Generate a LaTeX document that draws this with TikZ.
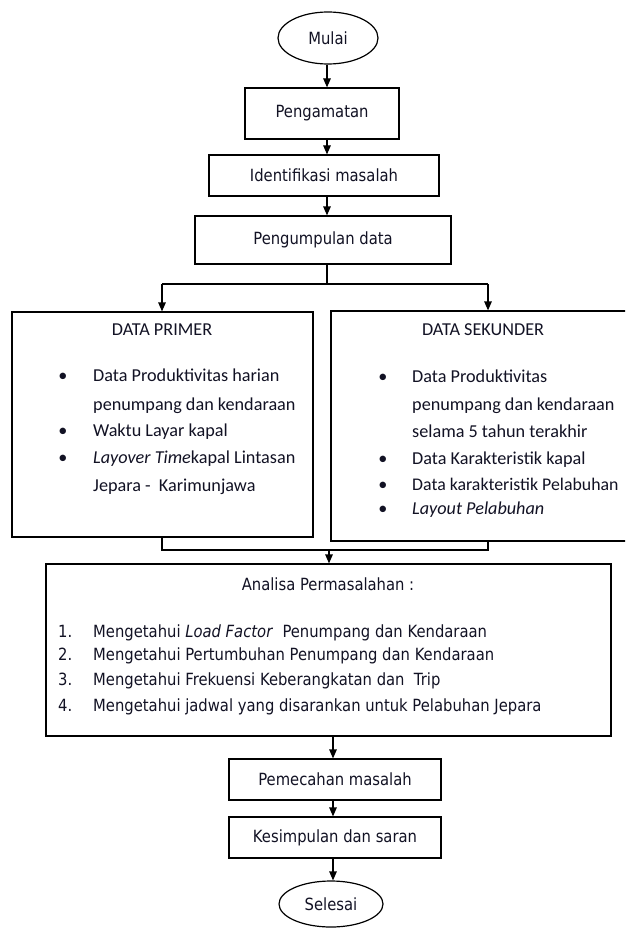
\documentclass[tikz,border=0pt]{standalone}
\usepackage{fontspec}
\setmainfont{DejaVu Sans}[FakeStretch=0.88]
\newfontfamily\calib{Carlito}
\usetikzlibrary{shapes.geometric,arrows.meta}
\definecolor{txt}{RGB}{18,18,36}
\begin{document}
\begin{tikzpicture}[x=1pt,y=-1pt,
  fbox/.style={draw, rectangle, line width=1.2pt, inner sep=0pt, text=txt, font=\fontsize{16.8}{20}\selectfont},
  term/.style={draw, ellipse, line width=1.2pt, inner sep=0pt, text=txt, font=\fontsize{16.8}{20}\selectfont},
  ln/.style={line width=1.2pt},
  arr/.style={line width=1.2pt, -{Triangle[width=7.5pt,length=9pt]}},
  ctext/.style={inner sep=0pt, text=txt, font=\calib\fontsize{18.2}{22}\selectfont, text height=0.75em, text depth=0.25em},
  ttext/.style={inner sep=0pt, text=txt, font=\fontsize{16.8}{20}\selectfont, text height=0.75em, text depth=0.25em}]
\clip (0,0) rectangle (625,928);
\fill[white] (0,0) rectangle (625,928);

% top column
\node[term, minimum width=100pt, minimum height=52pt] (mulai) at (328,38) {Mulai};
\node[fbox, minimum width=154pt, minimum height=51pt] (peng) at (322,113.5) {Pengamatan};
\node[fbox, minimum width=230pt, minimum height=41pt] (ident) at (324,175.5) {Identifikasi masalah};
\node[fbox, minimum width=256pt, minimum height=48pt] (kumpul) at (323,240) {Pengumpulan data};

% data boxes
\node[fbox, minimum width=301pt, minimum height=225pt] (primer) at (162.5,424.5) {};
\node[fbox, minimum width=299pt, minimum height=230pt] (sekunder) at (480.5,426) {};

\node[ctext] (ph) at (162,333) {DATA PRIMER};
\node[ctext] (pb1) at (63,379) {•};
\node[ctext, anchor=west] (p1) at (93,379) {Data Produktivitas harian};
\node[ctext, anchor=west] (p2) at (93,408) {penumpang dan kendaraan};
\node[ctext] (pb3) at (63,434) {•};
\node[ctext, anchor=west] (p3) at (93,434) {Waktu Layar kapal};
\node[ctext] (pb4) at (63,461) {•};
\node[ctext, anchor=west] (p4) at (93,461) {\textit{Layover Time}kapal Lintasan};
\node[ctext, anchor=west] (p5) at (93,489) {Jepara -\ \ Karimunjawa};

\node[ctext] (sh) at (483,333) {DATA SEKUNDER};
\node[ctext] (sb1) at (383,380) {•};
\node[ctext, anchor=west] (s1t) at (412,380) {Data Produktivitas};
\node[ctext, anchor=west] (s2t) at (412,408) {penumpang dan kendaraan};
\node[ctext, anchor=west] (s3t) at (412,435) {selama 5 tahun terakhir};
\node[ctext] (sb4) at (383,462) {•};
\node[ctext, anchor=west] (s4t) at (412,462) {Data Karakteristik kapal};
\node[ctext] (sb5) at (383,488) {•};
\node[ctext, anchor=west, font=\calib\fontsize{17.8}{22}\selectfont] (s5t) at (412,488) {Data karakteristik Pelabuhan};
\node[ctext] (sb6) at (383,512) {•};
\node[ctext, anchor=west] (s6t) at (412,512) {\textit{Layout Pelabuhan}};

% analysis box
\node[fbox, minimum width=565pt, minimum height=172pt] (analisa) at (328.5,650) {};
\node[ttext] (ah) at (328,588) {Analisa Permasalahan :};
\node[ttext, anchor=west] (an1) at (58,635) {1.};
\node[ttext, anchor=west] (a1) at (93,635) {Mengetahui \textit{Load Factor}\ \ Penumpang dan Kendaraan};
\node[ttext, anchor=west] (an2) at (58,658) {2.};
\node[ttext, anchor=west] (a2) at (93,658) {Mengetahui Pertumbuhan Penumpang dan Kendaraan};
\node[ttext, anchor=west] (an3) at (58,683) {3.};
\node[ttext, anchor=west] (a3) at (93,683) {Mengetahui Frekuensi Keberangkatan dan\ \ Trip};
\node[ttext, anchor=west] (an4) at (58,709) {4.};
\node[ttext, anchor=west] (a4) at (93,709) {Mengetahui jadwal yang disarankan untuk Pelabuhan Jepara};

% bottom column
\node[fbox, minimum width=212pt, minimum height=41pt] (pem) at (335,779.5) {Pemecahan masalah};
\node[fbox, minimum width=212pt, minimum height=41pt] (kes) at (335,837.5) {Kesimpulan dan saran};
\node[term, minimum width=104pt, minimum height=46pt] (sel) at (331,904) {Selesai};

% connectors top
\coordinate (tm) at (327,0);
\draw[arr] (tm |- mulai.south) -- (tm |- peng.north);
\draw[arr] (tm |- peng.south) -- (tm |- ident.north);
\draw[arr] (tm |- ident.south) -- (tm |- kumpul.north);
\coordinate (split) at (327,284);
\coordinate (pl) at (162,284);
\coordinate (pr) at (488,284);
\draw[ln] (split |- kumpul.south) -- (split);
\draw[ln] (pl) -- (pr);
\draw[arr] (pl) -- (pl |- primer.north);
\draw[arr] (pr) -- (pr |- sekunder.north);

% merge
\coordinate (ql) at (162,550);
\coordinate (qr) at (488,550);
\coordinate (qm) at (329,550);
\draw[ln] (ql |- primer.south) -- (ql) -- (qr) -- (qr |- sekunder.south);
\draw[arr] (qm) -- (qm |- analisa.north);

% bottom connectors
\coordinate (bm) at (333,0);
\draw[arr] (bm |- analisa.south) -- (bm |- pem.north);
\draw[arr] (bm |- pem.south) -- (bm |- kes.north);
\draw[arr] (bm |- kes.south) -- (bm |- sel.north);
\end{tikzpicture}
\end{document}
